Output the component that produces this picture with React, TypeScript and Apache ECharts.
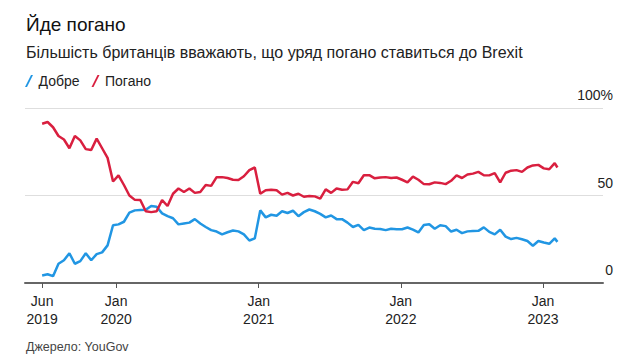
import React, { useEffect, useRef } from "react";
import * as echarts from "echarts";

const dates = [
  "2019-06-25", "2019-07-09", "2019-07-23", "2019-08-06", "2019-08-20", "2019-09-03", "2019-09-17", "2019-10-01",
  "2019-10-15", "2019-10-29", "2019-11-12", "2019-11-26", "2019-12-10", "2019-12-24",
  "2020-01-07", "2020-01-21", "2020-02-04", "2020-02-18", "2020-03-03", "2020-03-17", "2020-03-31", "2020-04-14",
  "2020-04-28", "2020-05-12", "2020-05-26", "2020-06-09", "2020-06-23", "2020-07-07", "2020-07-21", "2020-08-04",
  "2020-08-18", "2020-09-01", "2020-09-15", "2020-09-29", "2020-10-13", "2020-10-27", "2020-11-10", "2020-11-24",
  "2020-12-08", "2020-12-22",
  "2021-01-05", "2021-01-19", "2021-02-02", "2021-02-16", "2021-03-02", "2021-03-16", "2021-03-30", "2021-04-13",
  "2021-04-27", "2021-05-11", "2021-05-25", "2021-06-08", "2021-06-22", "2021-07-06", "2021-07-20", "2021-08-03",
  "2021-08-17", "2021-08-31", "2021-09-14", "2021-09-28", "2021-10-12", "2021-10-26", "2021-11-09", "2021-11-23",
  "2021-12-07", "2021-12-21",
  "2022-01-04", "2022-01-18", "2022-02-01", "2022-02-15", "2022-03-01", "2022-03-15", "2022-03-29", "2022-04-12",
  "2022-04-26", "2022-05-10", "2022-05-24", "2022-06-07", "2022-06-21", "2022-07-05", "2022-07-19", "2022-08-02",
  "2022-08-16", "2022-08-30", "2022-09-13", "2022-09-27", "2022-10-11", "2022-10-25", "2022-11-08", "2022-11-22",
  "2022-12-06", "2022-12-20",
  "2023-01-03", "2023-01-17", "2023-01-31", "2023-02-07",
];

// Добре (well)
const good = [
  4.3, 5, 3.9, 11, 13, 17, 11, 12.5, 17, 13, 16.5, 17.5, 21.5, 33,
  33.5, 35, 40.2, 41.5, 41.7, 41.8, 44, 43.6, 39.8, 38.2, 37, 33.5, 34, 34.5, 36.5, 34,
  32, 30.2, 29.4, 27.8, 29, 30, 29.5, 27.8, 24.3, 25.5,
  41.5, 37.5, 39, 38.4, 41, 40, 41.3, 38.2, 40.5, 42, 41, 39.5, 37.5, 38.6, 36.5, 36.5,
  34.5, 32, 33.2, 30.2, 31.7, 31, 30.9, 30.2, 31, 30.7,
  30.7, 31.7, 30.5, 28.9, 33.1, 33.6, 31, 33, 32.5, 29.4, 30.4, 28.5, 29.5, 29.7, 29.8, 31.8,
  29.2, 27.8, 30.4, 26.5, 25.1, 25.8, 25, 24, 21.3, 24,
  23.1, 22.4, 25.5, 23.5,
];

// Погано (badly)
const bad = [
  91, 92, 89, 84, 82, 77, 84, 81.5, 76.5, 76, 82.5, 77, 71.5, 58,
  61.5, 56, 50, 47.5, 47.4, 41, 40.5, 41, 47.4, 44, 51, 54, 52, 54, 51.5, 52,
  56, 55.5, 60.5, 60.5, 60, 59, 58.8, 61, 64.5, 66,
  51, 53, 53.3, 53, 50.5, 51.5, 50, 51, 49.3, 49.7, 49.5, 48.2, 53.5, 51.5, 54, 53.3,
  53.5, 57.8, 57, 61.6, 61.6, 59.8, 60.3, 60.5, 60, 60.3,
  59, 57.5, 60.8, 59, 56.5, 56.4, 57.5, 57.2, 56.5, 58.4, 61.5, 60, 62, 62.5, 63.5, 61.6,
  61.5, 62.8, 57.5, 63, 64.2, 64.5, 63.5, 66, 67.2, 67.5,
  65.5, 65, 68.5, 66,
];

const tickDates = ["2019-06-25", "2020-01-01", "2021-01-01", "2022-01-01", "2023-01-01"];
const tickLabels = ["Jun\n2019", "Jan\n2020", "Jan\n2021", "Jan\n2022", "Jan\n2023"];
const yTicks = [0, 50, 100];

const FONT = "'Liberation Sans', Arial, Helvetica, sans-serif";
const BLUE = "#2196e3";
const RED = "#d91f3f";

const toTime = (d: string) => new Date(d + "T00:00:00Z").getTime();

export default function App() {
  const ref = useRef<HTMLDivElement>(null);

  useEffect(() => {
    if (!ref.current) return;
    const chart = echarts.init(ref.current, undefined, { renderer: "svg" });
    const tickTimes = tickDates.map(toTime);

    chart.setOption({
      animation: false,
      backgroundColor: "#ffffff",
      textStyle: { fontFamily: FONT },
      title: [
        {
          text: "Йде погано",
          left: 21,
          top: 10,
          textStyle: { fontFamily: FONT, fontSize: 19, fontWeight: "normal", color: "#111" },
        },
        {
          text: "Більшість британців вважають, що уряд погано ставиться до Brexit",
          left: 21,
          top: 39,
          textStyle: { fontFamily: FONT, fontSize: 16, fontWeight: "normal", color: "#222" },
        },
        {
          text: "Джерело: YouGov",
          left: 21,
          top: 335,
          textStyle: { fontFamily: FONT, fontSize: 12.5, fontWeight: "normal", color: "#444" },
        },
      ],
      legend: {
        left: 20,
        top: 69,
        itemWidth: 9,
        itemHeight: 12,
        itemGap: 12,
        icon: "path://M0,12 L6,0 L8,0 L2,12 Z",
        textStyle: { fontFamily: FONT, fontSize: 14, color: "#222" },
        data: ["Добре", "Погано"],
      },
      grid: { left: 25, right: 37, top: 108, bottom: 79, containLabel: false },
      xAxis: {
        type: "value",
        min: toTime("2019-05-12"),
        max: toTime("2023-06-04"),
        axisLine: { show: true, lineStyle: { color: "#666", width: 2 } },
        axisTick: {
          show: true,
          length: 5,
          customValues: tickTimes,
          lineStyle: { color: "#555", width: 1 },
        },
        axisLabel: {
          customValues: tickTimes,
          margin: 9,
          fontSize: 14,
          lineHeight: 18,
          color: "#222",
          fontFamily: FONT,
          formatter: (v: number) => {
            const i = tickTimes.indexOf(v);
            return i >= 0 ? tickLabels[i] : "";
          },
        },
        splitLine: { show: false },
      },
      yAxis: {
        type: "value",
        position: "right",
        min: 0,
        max: 100,
        interval: 50,
        axisLine: { show: false },
        axisTick: { show: false },
        splitLine: { show: true, lineStyle: { color: "#dedede", width: 1 } },
        axisLabel: {
          align: "right",
          verticalAlign: "bottom",
          margin: 10,
          padding: [0, 0, 6, 0],
          fontSize: 14,
          color: "#222",
          fontFamily: FONT,
          formatter: (v: number) => (yTicks.includes(v) ? (v === 100 ? "100%" : String(v)) : ""),
        },
      },
      series: [
        {
          name: "Добре",
          type: "line",
          data: dates.map((d, i) => [toTime(d), good[i]]),
          showSymbol: false,
          symbol: "none",
          lineStyle: { color: BLUE, width: 2.5 },
          itemStyle: { color: BLUE },
          z: 2,
        },
        {
          name: "Погано",
          type: "line",
          data: dates.map((d, i) => [toTime(d), bad[i]]),
          showSymbol: false,
          symbol: "none",
          lineStyle: { color: RED, width: 2.5 },
          itemStyle: { color: RED },
          z: 3,
        },
      ],
    });
    return () => chart.dispose();
  }, []);

  return (
    <div
      ref={ref}
      style={{ position: "fixed", left: 0, top: 0, width: 640, height: 362, background: "#fff" }}
    />
  );
}
